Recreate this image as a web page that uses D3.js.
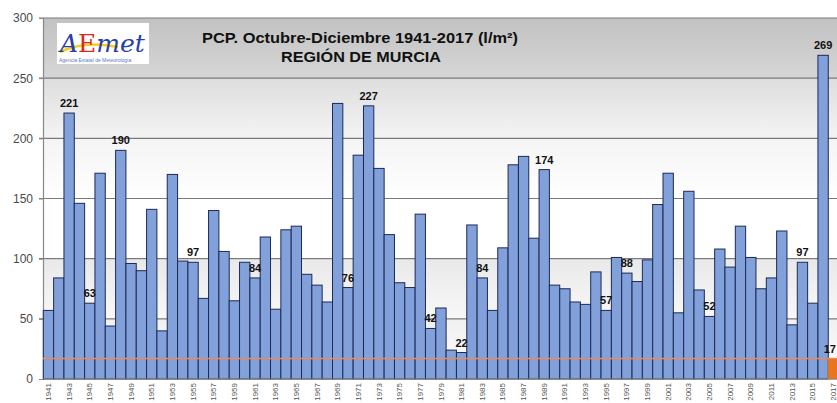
<!DOCTYPE html>
<html>
<head>
<meta charset="utf-8">
<script src="https://cdn.jsdelivr.net/npm/d3@7"></script>
<style>
  html, body { margin: 0; padding: 0; background: #fff; }
  svg { display: block; }
</style>
</head>
<body>
<svg id="chart" width="837" height="403"></svg>
<script>
// ---- Data ----
const years = d3.range(1941, 2018).map(String);
const values = [
  57, 84, 221, 146, 63, 171, 44, 190, 96, 90,      // 1941-1950
  141, 40, 170, 98, 97, 67, 140, 106, 65, 97,      // 1951-1960
  84, 118, 58, 124, 127, 87, 78, 64, 229, 76,      // 1961-1970
  186, 227, 175, 120, 80, 76, 137, 42, 59, 24,     // 1971-1980
  22, 128, 84, 57, 109, 178, 185, 117, 174, 78,    // 1981-1990
  75, 64, 62, 89, 57, 101, 88, 81, 99, 145,        // 1991-2000
  171, 55, 156, 74, 52, 108, 93, 127, 101, 75,     // 2001-2010
  84, 123, 45, 97, 63, 269, 17                     // 2011-2017
];
const labelledYears = ["1943","1945","1948","1955","1961","1970","1972","1978","1981","1983","1989","1995","1997","2005","2014","2016","2017"];
const yTicks = [0, 50, 100, 150, 200, 250, 300];
const refValue = 17;   // 2017 reference line
const titleLine1 = "PCP. Octubre-Diciembre 1941-2017 (l/m²)";
const titleLine2 = "REGIÓN DE MURCIA";

const data = years.map((y, i) => ({ year: y, value: values[i] }));

// ---- Layout ----
const svg = d3.select("#chart");
const x = d3.scaleBand().domain(years).range([43.3, 838.6]).padding(0);
const y = d3.scaleLinear().domain([0, 300]).range([379, 18]);

// Background gradient of plot area
const defs = svg.append("defs");
const grad = defs.append("linearGradient").attr("id", "bg")
  .attr("x1", 0).attr("y1", 0).attr("x2", 0).attr("y2", 1);
[
  [0, "#c2c2c2"], [0.166, "#d6d6d6"], [0.17, "#dedede"], [0.333, "#f4f4f4"],
  [0.5, "#ffffff"], [0.666, "#ffffff"], [0.67, "#e9e9e9"], [0.833, "#f8f8f8"],
  [0.837, "#f0f0f0"], [1, "#ffffff"]
].forEach(([o, c]) => grad.append("stop").attr("offset", o).attr("stop-color", c));

svg.append("rect")
  .attr("x", 43).attr("y", y(300))
  .attr("width", 837 - 43).attr("height", y(0) - y(300))
  .attr("fill", "url(#bg)");

// Gridlines
svg.append("g").selectAll("line").data(yTicks.filter(d => d > 0)).join("line")
  .attr("x1", 39).attr("x2", 837)
  .attr("y1", d => y(d)).attr("y2", d => y(d))
  .attr("stroke", "#7a7a7a").attr("stroke-width", 1.2);

// Y axis
const yAxis = d3.axisLeft(y).tickValues(yTicks).tickSize(4).tickPadding(6);
const gy = svg.append("g").attr("transform", "translate(43,0)").call(yAxis);
gy.select(".domain").attr("stroke", "#888").attr("stroke-width", 1.2);
gy.selectAll(".tick line").attr("stroke", "#888");
gy.selectAll(".tick text").attr("fill", "#4a4a4a")
  .style("font-family", "'Liberation Sans', Arial, sans-serif").style("font-size", "12px");

// Bars
svg.append("g").selectAll("rect").data(data).join("rect")
  .attr("x", d => x(d.year))
  .attr("y", d => y(d.value))
  .attr("width", x.bandwidth())
  .attr("height", d => y(0) - y(d.value))
  .attr("fill", d => d.year === "2017" ? "#e8761e" : "#82a1db")
  .attr("stroke", d => d.year === "2017" ? "#e8761e" : "#1c2a55")
  .attr("stroke-width", 1);

// Reference line at 2017 value
svg.append("line")
  .attr("x1", 43).attr("x2", 837)
  .attr("y1", y(refValue)).attr("y2", y(refValue))
  .attr("stroke", "#e98a5c").attr("stroke-width", 1.6);

// X axis line
svg.append("line").attr("x1", 43).attr("x2", 837)
  .attr("y1", y(0)).attr("y2", y(0)).attr("stroke", "#888").attr("stroke-width", 1);

// X labels (every other year), rotated
const xAxis = d3.axisBottom(x).tickValues(years.filter((d, i) => i % 2 === 0)).tickSize(0).tickPadding(0);
const gx = svg.append("g").attr("transform", `translate(0,${y(0)})`).call(xAxis);
gx.select(".domain").remove();
gx.selectAll(".tick text")
  .attr("transform", "rotate(-90)")
  .attr("x", -4).attr("y", 0).attr("dy", "0.32em")
  .attr("text-anchor", "end")
  .attr("fill", "#555")
  .style("font-family", "'Liberation Sans', Arial, sans-serif").style("font-size", "8px");

// Value labels
svg.append("g").selectAll("text").data(data.filter(d => labelledYears.includes(d.year))).join("text")
  .attr("x", d => d.year === "2017" ? 836 : x(d.year) + x.bandwidth() / 2)
  .attr("y", d => y(d.value) - 6)
  .attr("text-anchor", d => d.year === "2017" ? "end" : "middle")
  .attr("fill", "#111")
  .style("font-family", "'Liberation Sans', Arial, sans-serif")
  .style("font-weight", "bold").style("font-size", "11px")
  .text(d => d.value);

// Title
const title = svg.append("g").style("font-family", "'Liberation Sans', Arial, sans-serif")
  .style("font-weight", "bold").attr("fill", "#111").attr("text-anchor", "middle");
title.append("text").attr("x", 360).attr("y", 42.5).style("font-size", "14px")
  .attr("textLength", 316).attr("lengthAdjust", "spacingAndGlyphs").text(titleLine1);
title.append("text").attr("x", 361).attr("y", 61.5).style("font-size", "14px")
  .attr("textLength", 160).attr("lengthAdjust", "spacingAndGlyphs").text(titleLine2);

// Logo (AEMET)
const logo = svg.append("g");
logo.append("rect").attr("x", 57).attr("y", 23).attr("width", 92).attr("height", 41).attr("fill", "#fff");
logo.append("path").attr("d", "M60,52 Q85,40 118,47").attr("fill", "none")
  .attr("stroke", "#f2d01b").attr("stroke-width", 2.5);
const lt = logo.append("text").attr("x", 60).attr("y", 52)
  .style("font-family", "'DejaVu Serif', serif").style("font-style", "italic").style("font-size", "25px");
lt.append("tspan").attr("fill", "#2a3fa8").text("A");
lt.append("tspan").attr("fill", "#d9281e").style("font-style", "normal").text("E");
lt.append("tspan").attr("fill", "#2a3fa8").text("met");
logo.append("text").attr("x", 59).attr("y", 62)
  .attr("fill", "#5a7ac8")
  .style("font-family", "'Liberation Sans', Arial, sans-serif").style("font-size", "5px")
  .text("Agencia Estatal de Meteorología");
</script>
</body>
</html>
